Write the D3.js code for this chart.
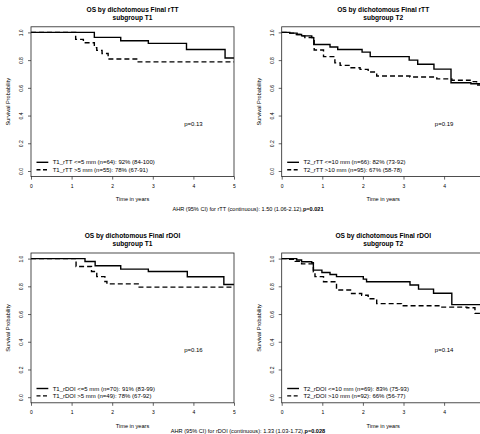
<!DOCTYPE html>
<html>
<head>
<meta charset="utf-8">
<script src="https://cdn.jsdelivr.net/npm/d3@7"></script>
<style>
    body { margin: 0; background: #fff; }
    svg { display: block; font-family: "Liberation Sans", Arial, Helvetica, sans-serif; }
    svg text { fill: #000; }
</style>
</head>
<body>
<svg id="chart" width="480" height="434"></svg>
<script>
// tick values
const yearTicks = [0, 1, 2, 3, 4, 5];
const survTicks = [0, 0.2, 0.4, 0.6, 0.8, 1.0];

// Kaplan-Meier steps, [time in years, survival]
const t1RttLe5 = [[0, 1], [1.56, 0.964], [2.21, 0.94], [2.89, 0.921], [3.83, 0.877], [4.78, 0.815], [5, 0.815]];
const t1RttGt5 = [[0, 1], [1.10, 0.95], [1.29, 0.925], [1.56, 0.89], [1.62, 0.87], [1.75, 0.848], [1.90, 0.808], [2.64, 0.787], [5, 0.787]];

const t2RttLe10 = [[0, 1], [0.2, 0.995], [0.38, 0.985], [0.49, 0.975], [0.74, 0.962], [0.79, 0.913], [1.19, 0.895], [1.38, 0.877],
    [1.98, 0.858], [2.18, 0.825], [3.14, 0.80], [3.35, 0.77], [3.75, 0.735], [4.17, 0.637], [4.66, 0.63], [5, 0.63]];
const t2RttGt10 = [[0, 1], [0.15, 0.995], [0.29, 0.985], [0.45, 0.975], [0.57, 0.963], [0.80, 0.873], [1.03, 0.825], [1.31, 0.78],
    [1.44, 0.762], [1.68, 0.745], [1.93, 0.733], [2.13, 0.714], [2.34, 0.685], [3.16, 0.678], [3.82, 0.665], [4.19, 0.655],
    [4.64, 0.645], [4.8, 0.62], [5, 0.62]];

const t1DoiLe5 = [[0, 1], [1.33, 0.979], [1.58, 0.948], [2.21, 0.924], [2.89, 0.907], [3.85, 0.869], [4.75, 0.813], [5, 0.813]];
const t1DoiGt5 = [[0, 1], [1.11, 0.943], [1.49, 0.907], [1.62, 0.87], [1.82, 0.835], [1.87, 0.818], [2.64, 0.794], [5, 0.794]];

const t2DoiLe10 = [[0, 1], [0.37, 0.99], [0.49, 0.977], [0.74, 0.97], [0.78, 0.917], [0.99, 0.90], [1.19, 0.885], [1.35, 0.87],
    [2.01, 0.852], [2.09, 0.833], [3.16, 0.81], [3.37, 0.78], [3.74, 0.75], [4.19, 0.668], [5, 0.668]];
const t2DoiGt10 = [[0, 1], [0.16, 0.995], [0.33, 0.98], [0.49, 0.962], [0.78, 0.905], [0.82, 0.87], [1.03, 0.833], [1.35, 0.773],
    [1.72, 0.748], [1.97, 0.736], [2.13, 0.71], [2.34, 0.675], [2.95, 0.66], [3.9, 0.65], [4.56, 0.645], [4.76, 0.605], [5, 0.605]];

// legend / annotation texts
const legendT1Rtt = ['T1_rTT <=5 mm (n=64): 92% (84-100)', 'T1_rTT >5 mm (n=55): 78% (67-91)'];
const legendT2Rtt = ['T2_rTT <=10 mm (n=66): 82% (73-92)', 'T2_rTT >10 mm (n=95): 67% (58-78)'];
const legendT1Doi = ['T1_rDOI <=5 mm (n=70): 91% (83-99)', 'T1_rDOI >5 mm (n=49): 78% (67-92)'];
const legendT2Doi = ['T2_rDOI <=10 mm (n=69): 83% (75-93)', 'T2_rDOI >10 mm (n=92): 66% (56-77)'];
const pValues = ['p=0.13', 'p=0.19', 'p=0.16', 'p=0.14'];
const ahrRtt = ['AHR (95% CI) for rTT (continuous): 1.50 (1.06-2.12),', 'p=0.021'];
const ahrDoi = ['AHR (95% CI) for rDOI (continuous): 1.33 (1.03-1.72),', 'p=0.028'];

const boxW = 203,
    boxH = 149.8,
    pageW = 480,
    svg = d3.select('#chart');

const panels = [
    { x0: 31, y0: 26.8, title: ['OS by dichotomous Final rTT', 'subgroup T1'], curves: [t1RttLe5, t1RttGt5], legend: legendT1Rtt, p: pValues[0] },
    { x0: 281.7, y0: 26.8, title: ['OS by dichotomous Final rTT', 'subgroup T2'], curves: [t2RttLe10, t2RttGt10], legend: legendT2Rtt, p: pValues[1] },
    { x0: 31, y0: 253, title: ['OS by dichotomous Final rDOI', 'subgroup T1'], curves: [t1DoiLe5, t1DoiGt5], legend: legendT1Doi, p: pValues[2] },
    { x0: 281.7, y0: 253, title: ['OS by dichotomous Final rDOI', 'subgroup T2'], curves: [t2DoiLe10, t2DoiGt10], legend: legendT2Doi, p: pValues[3] }
];

const dashes = [null, '5,3'];

function drawPanel(p) {
    const g = svg.append('g').attr('transform', `translate(${p.x0},${p.y0})`);

    const x = d3.scaleLinear().domain([0, 5]).range([0, boxW]),
        y = d3.scaleLinear().domain([0, 1]).range([boxH - 5.6, 5.6]);

    // title, two lines in one text element
    const title = g.append('text')
        .attr('x', boxW / 2)
        .attr('y', -14.8)
        .attr('text-anchor', 'middle')
        .attr('font-size', 6.6)
        .attr('font-weight', 'bold')
        .attr('fill', '#000');
    p.title.forEach((t, i) => {
        title.append('tspan')
            .attr('x', boxW / 2)
            .attr('dy', i ? 7.7 : 0)
            .attr('fill', '#000')
            .text(t);
    });

    // curves
    const line = d3.line()
        .x(d => x(d[0]))
        .y(d => y(d[1]))
        .curve(d3.curveStepAfter);

    p.curves.forEach((c, i) => {
        g.append('path')
            .datum(c)
            .attr('d', line)
            .attr('fill', 'none')
            .attr('stroke', '#000')
            .attr('stroke-width', 1.4)
            .attr('stroke-dasharray', dashes[i]);
    });

    // box
    g.append('rect')
        .attr('width', boxW)
        .attr('height', boxH)
        .attr('fill', 'none')
        .attr('stroke', '#222')
        .attr('stroke-width', 0.8);

    // y axis
    const ya = g.append('g')
        .call(d3.axisLeft(y).tickValues(survTicks).tickSize(3).tickFormat(d3.format('.1f')));
    ya.select('.domain').remove();
    ya.selectAll('line').attr('stroke', '#222').attr('stroke-width', 0.7);
    ya.selectAll('text')
        .attr('x', null)
        .attr('dy', null)
        .attr('text-anchor', 'middle')
        .attr('transform', 'translate(-7.6,0) rotate(-90)')
        .attr('font-size', 5)
        .attr('font-family', null);

    // x axis, ticks past the page edge are cropped away
    const visibleYears = yearTicks.filter(d => p.x0 + x(d) < pageW);
    const xa = g.append('g')
        .attr('transform', `translate(0,${boxH})`)
        .call(d3.axisBottom(x).tickValues(visibleYears).tickSize(3).tickFormat(d3.format('d')));
    xa.select('.domain').remove();
    xa.selectAll('line').attr('stroke', '#222').attr('stroke-width', 0.7);
    xa.selectAll('text')
        .attr('y', 11.4)
        .attr('dy', null)
        .attr('font-size', 5)
        .attr('font-family', null);

    // axis titles
    g.append('text')
        .attr('x', boxW / 2)
        .attr('y', boxH + 24.8)
        .attr('text-anchor', 'middle')
        .attr('font-size', 5.6)
        .text('Time in years');

    g.append('text')
        .attr('transform', `translate(-20.6,${y(0.5)}) rotate(-90)`)
        .attr('text-anchor', 'middle')
        .attr('font-size', 5.6)
        .text('Survival Probability');

    // p value
    g.append('text')
        .attr('x', x(4))
        .attr('y', y(0.34))
        .attr('dy', '0.35em')
        .attr('text-anchor', 'middle')
        .attr('font-size', 6)
        .text(p.p);

    // legend
    p.legend.forEach((t, i) => {
        const ly = boxH - 14.3 + i * 7.4;
        g.append('line')
            .attr('x1', 5.5)
            .attr('x2', 17.3)
            .attr('y1', ly)
            .attr('y2', ly)
            .attr('stroke', '#000')
            .attr('stroke-width', 1.4)
            .attr('stroke-dasharray', i ? '4,2.5' : null);
        g.append('text')
            .attr('x', 21.7)
            .attr('y', ly + 2.1)
            .attr('font-size', 6)
            .text(t);
    });
}

panels.forEach(drawPanel);

// AHR footnotes
function ahrLine(parts, yPos) {
    const t = svg.append('text')
        .attr('x', 248)
        .attr('y', yPos)
        .attr('text-anchor', 'middle')
        .attr('font-size', 5.6);
    t.append('tspan').text(parts[0]);
    t.append('tspan').attr('font-weight', 'bold').text(parts[1]);
}

ahrLine(ahrRtt, 211);
ahrLine(ahrDoi, 432.6);
</script>
</body>
</html>
